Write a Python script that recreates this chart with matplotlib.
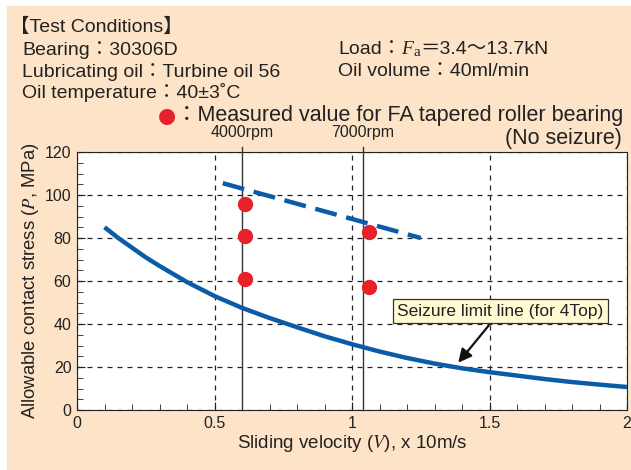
import matplotlib.pyplot as plt
from matplotlib.patches import Rectangle

plt.rcParams['font.family'] = ['Liberation Sans', 'Noto Sans CJK JP', 'DejaVu Sans']
plt.rcParams['mathtext.fontset'] = 'stix'

# seizure limit line (4Top)
limit_v = [0.1, 0.15, 0.2, 0.25, 0.3, 0.4, 0.5, 0.6, 0.7, 0.8, 0.9, 1.0, 1.1, 1.2, 1.3,
           1.4, 1.5, 1.6, 1.7, 1.8, 1.9, 2.0]
limit_p = [85, 80, 75.5, 71, 67, 59.5, 53, 47.5, 42.8, 38.5, 34.3, 30.6, 27.2, 24.2, 21.6,
           19.4, 17.6, 16, 14.4, 13, 11.8, 10.7]

# dashed trend of FA bearing
trend_v = [0.53, 1.25]
trend_p = [105.5, 80]

# measured values (no seizure)
meas_v = [0.61, 0.61, 0.61, 1.06, 1.06]
meas_p = [96, 81, 61, 83, 57]

rpm_v = [0.6, 1.04]
rpm_labels = ["4000rpm", "7000rpm"]

blue = "#0A5BA8"
red = "#E8202A"
ink = "#222222"

fig = plt.figure(figsize=(6.31, 4.70), dpi=100)
fig.patches.append(Rectangle((7 / 631, 0), 1, 464 / 470, transform=fig.transFigure,
                             facecolor="#FDE3C7", edgecolor="none", zorder=-10))

ax = fig.add_axes([77 / 631, 60 / 470, 550 / 631, 258 / 470])
ax.set_facecolor("white")

ax.plot(limit_v, limit_p, color=blue, lw=3.2, solid_capstyle="butt", zorder=4)
ax.plot(trend_v, trend_p, color=blue, lw=3.2, dashes=(5, 2.2), zorder=4)
ax.plot(meas_v, meas_p, "o", color=red, ms=11, mec="none", zorder=5)

for v, lab in zip(rpm_v, rpm_labels):
    ax.plot([v, v], [0, 122.5], color="#333333", lw=1.0, clip_on=False, zorder=3)
    ax.text(v, 125.5, lab, ha="center", va="bottom", fontsize=11.5, color=ink)

ax.set_xlim(0, 2)
ax.set_ylim(0, 120)
ax.set_xticks([0, 0.5, 1, 1.5, 2])
ax.set_xticklabels(["0", "0.5", "1", "1.5", "2"])
ax.set_yticks(range(0, 121, 20))
ax.set_xticks([i / 10 for i in range(21)], minor=True)
ax.set_yticks(range(0, 121, 5), minor=True)
ax.tick_params(which="both", direction="in", labelsize=11.5, colors=ink)
ax.tick_params(which="major", length=6, pad=4)
ax.tick_params(which="minor", length=4)
ax.grid(which="major", color=ink, ls=(0, (4, 4)), lw=0.9)
for s in ax.spines.values():
    s.set_color(ink)

ax.set_xlabel(r"Sliding velocity ($V$), x 10m/s", fontsize=13.5, color=ink, labelpad=2)
ax.set_ylabel(r"Allowable contact stress ($P$, MPa)", fontsize=13.3, color=ink, labelpad=3)

ax.annotate("Seizure limit line (for 4Top)", xy=(1.38, 21), xytext=(1.54, 46),
            ha="center", va="center", fontsize=12.5, color=ink,
            bbox=dict(boxstyle="square,pad=0.25", fc="#FFFBD2", ec="#333333", lw=0.9),
            arrowprops=dict(arrowstyle="-|>", color="#111111", lw=1.6, mutation_scale=20),
            zorder=6)

# test conditions block
fs = 14
tc = dict(fontsize=fs, color=ink, va="center", transform=fig.transFigure)


def fy(p):
    return 1 - p / 470


fig.text(10 / 631, fy(27), "【Test Conditions】", **tc)
fig.text(22 / 631, fy(50), "Bearing：30306D", **tc)
fig.text(22 / 631, fy(72), "Lubricating oil：Turbine oil 56", **tc)
fig.text(22 / 631, fy(93), "Oil temperature：40±3˚C", **tc)
fig.text(338 / 631, fy(72), "Oil volume：40ml/min", **tc)

# load line: pieces chained one after another so the italic F sits inline
prev = fig.text(338 / 631, fy(50), "Load：", **tc)
pieces = [("F", dict(style="italic", family=["Liberation Serif"])),
          ("a", dict(family=["Liberation Serif"], fontsize=fs - 3)),
          ("＝3.4～13.7kN", {})]
for s, kw in pieces:
    opts = dict(fontsize=fs, color=ink, va="bottom", ha="left")
    opts.update(kw)
    prev = ax.annotate(s, xy=(1, 0), xycoords=prev, annotation_clip=False, **opts)

fig.text(167 / 631, fy(116), "●", fontsize=15, color=red, ha="center", va="center",
         transform=fig.transFigure, family=["DejaVu Sans"])
fig.text(176 / 631, fy(116), "：Measured value for FA tapered roller bearing",
         fontsize=15.5, color=ink, va="center", transform=fig.transFigure)
fig.text(622 / 631, fy(139), "(No seizure)", ha="right", fontsize=15.5, color=ink,
         va="center", transform=fig.transFigure)

plt.savefig("out.png", dpi=100)
plt.close()
